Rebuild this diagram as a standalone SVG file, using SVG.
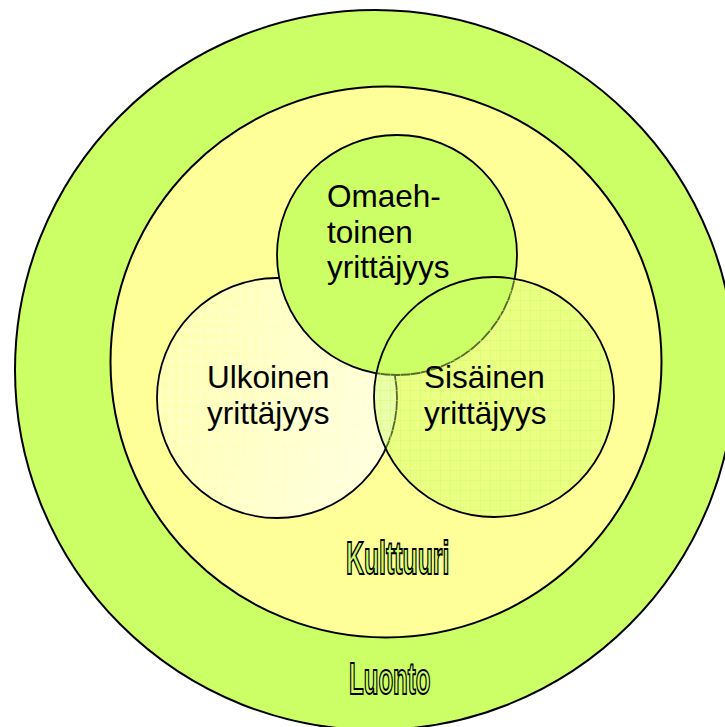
<svg xmlns="http://www.w3.org/2000/svg" width="725" height="727" viewBox="0 0 725 727">
  <defs>
    <style>
      .ring { stroke: #000; stroke-width: 2; }
      .small { stroke: #000; stroke-width: 1.8; }
      .lbl { font-family: "Liberation Sans", Arial, sans-serif; font-size: 31.5px; fill: #000; }
      .word { font-family: "Liberation Sans", Arial, sans-serif; font-weight: bold; fill: #CCFF66; stroke: #000; stroke-width: 2; }
    </style>
    <linearGradient id="ulkGrad" x1="0" y1="0" x2="1" y2="0.3">
      <stop offset="0" stop-color="#FFFFAE"/>
      <stop offset="1" stop-color="#FFFFDA"/>
    </linearGradient>
    <pattern id="whiteGrid" patternUnits="userSpaceOnUse" width="10" height="10">
      <path d="M0 0.5H10M0.5 0V10" stroke="#FFFFFF" stroke-width="1" stroke-opacity="0.25" fill="none"/>
    </pattern>
    <pattern id="greenGrid" patternUnits="userSpaceOnUse" width="10" height="10">
      <rect width="10" height="10" fill="#CCFF66" fill-opacity="0.42"/>
      <path d="M0 0.5H10M0.5 0V10" stroke="#CCFF66" stroke-width="1" stroke-opacity="0.45" fill="none"/>
    </pattern>
  </defs>

  <rect width="725" height="727" fill="#FFFFFF"/>

  <g id="luonto">
    <circle class="ring" cx="375" cy="370" r="360" fill="#CCFF66"/>
    <text class="word" font-size="45" transform="translate(349 694) scale(0.535 1)">Luonto</text>
  </g>

  <g id="kulttuuri">
    <circle class="ring" cx="386" cy="362" r="275.5" fill="#FFFF99"/>
    <text class="word" font-size="46" transform="translate(346 574) scale(0.54 1)">Kulttuuri</text>
  </g>

  <g id="ulkoinen">
    <circle cx="277" cy="398" r="120" fill="url(#ulkGrad)"/>
    <circle class="small" cx="277" cy="398" r="120" fill="url(#whiteGrid)"/>
  </g>

  <g id="omaehtoinen">
    <circle class="small" cx="397" cy="255" r="120" fill="#CCFF66"/>
  </g>

  <g id="sisainen">
    <circle class="small" cx="494" cy="397" r="120" fill="url(#greenGrid)"/>
  </g>

  <g id="labels">
    <text class="lbl" x="327" y="207">Omaeh-</text>
    <text class="lbl" x="327" y="242.5">toinen</text>
    <text class="lbl" x="327" y="278">yrittäjyys</text>
    <text class="lbl" x="207" y="388">Ulkoinen</text>
    <text class="lbl" x="207" y="424">yrittäjyys</text>
    <text class="lbl" x="424" y="388">Sisäinen</text>
    <text class="lbl" x="424" y="424">yrittäjyys</text>
  </g>

  <g id="connectors"/>
</svg>
